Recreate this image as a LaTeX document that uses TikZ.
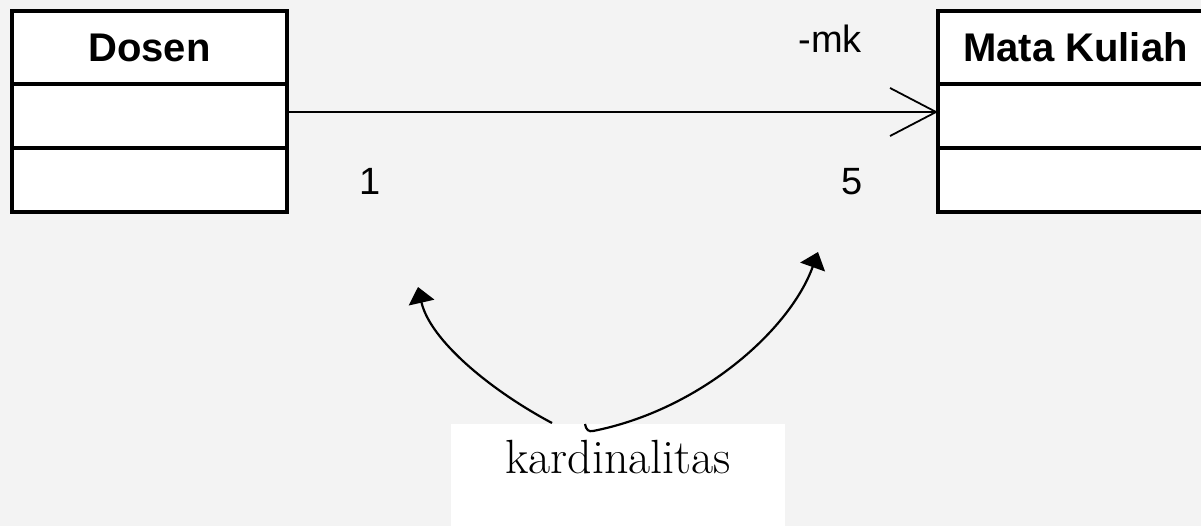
\documentclass[tikz,border=0pt]{standalone}
\usepackage{fontspec}
\newfontfamily\umlfont{Liberation Sans}
\usetikzlibrary{arrows.meta,positioning}
\definecolor{slidebg}{RGB}{243,243,243}

\tikzset{
  classhead/.style={draw,fill=white,line width=3.2pt,outer sep=0pt,
    minimum width=275pt,minimum height=73pt,
    font=\umlfont\bfseries\fontsize{40}{48}\selectfont},
  classpart/.style={draw,fill=white,line width=3.2pt,outer sep=0pt,
    minimum width=275pt,minimum height=64pt},
  umllabel/.style={anchor=base,font=\umlfont\fontsize{38}{46}\selectfont},
  assoc/.style={line width=1.8pt,-{Straight Barb[length=46pt,width=48pt]}},
  pointer/.style={line width=2.2pt,-{Triangle[length=16pt,width=26pt]}}
}

\begin{document}
\begin{tikzpicture}[x=1pt,y=-1pt]
  \fill[slidebg] (0,0) rectangle (1201,526);
  \useasboundingbox (0,0) rectangle (1201,526);

  % class Dosen
  \node[classhead] (dosen) at (149.5,47.5) {Dosen};
  \node[classpart,below=0pt of dosen] (dosen-attr) {};
  \node[classpart,below=0pt of dosen-attr] (dosen-ops) {};

  % class Mata Kuliah
  \node[classhead] (matkul) at (1075.5,47.5) {Mata Kuliah};
  \node[classpart,below=0pt of matkul] (matkul-attr) {};
  \node[classpart,below=0pt of matkul-attr] (matkul-ops) {};

  % association
  \draw[assoc] ([yshift=4pt]dosen-attr.east) -- ([yshift=4pt]matkul-attr.west);
  \node[umllabel] (role) at (830,53) {-mk};
  \node[umllabel] (mult-a) at (370,195) {1};
  \node[umllabel] (mult-b) at (852,195) {5};

  % callout
  \node[fill=white,anchor=base,minimum width=334pt,inner ysep=0pt,
        text height=49pt,text depth=57pt,
        font=\fontsize{48}{56}\selectfont] (kard) at (618,473) {kardinalitas};
  \coordinate (tip-a) at (418,287);
  \coordinate (tip-b) at (818,252);
  \coordinate (from-a) at (552,423);
  \coordinate (from-b) at (585,424);
  \draw[pointer] (from-a) .. controls (490,390) and (430,340) .. (tip-a);
  \draw[pointer] (from-b) .. controls (586,430) and (589,432) .. (593,431)
     .. controls (700,410) and (790,330) .. (tip-b);
\end{tikzpicture}
\end{document}
